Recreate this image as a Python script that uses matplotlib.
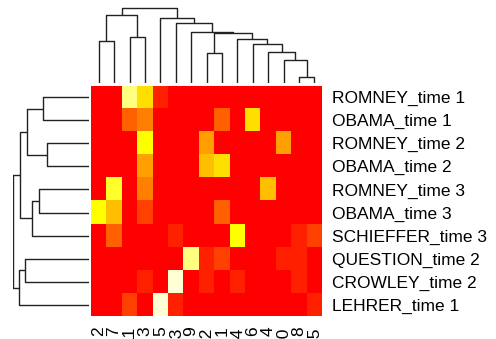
import matplotlib
matplotlib.use('Agg')
import matplotlib.pyplot as plt
from matplotlib.colors import ListedColormap
import numpy as np

plt.rcParams['font.family'] = ['Liberation Sans', 'DejaVu Sans']

# Speaker / time segments (rows, top to bottom) and topic columns (left to right)
row_labels = ['ROMNEY_time 1', 'OBAMA_time 1', 'ROMNEY_time 2', 'OBAMA_time 2',
              'ROMNEY_time 3', 'OBAMA_time 3', 'SCHIEFFER_time 3', 'QUESTION_time 2',
              'CROWLEY_time 2', 'LEHRER_time 1']
col_labels = ['2', '7', '11', '3', '5', '13', '9', '12', '1', '14', '6', '4', '10', '8', '15']

# Row-scaled values, binned into 12 heat levels (0 = red, 11 = pale yellow)
levels = [
    [0, 0, 10, 7, 1, 0, 0, 0, 0, 0, 0, 0, 0, 0, 0],
    [0, 0, 3, 4, 0, 0, 0, 0, 3, 0, 7, 0, 0, 0, 0],
    [0, 0, 0, 8, 0, 0, 0, 5, 0, 0, 0, 0, 5, 0, 0],
    [0, 0, 0, 5, 0, 0, 0, 6, 7, 0, 0, 0, 0, 0, 0],
    [0, 9, 0, 4, 0, 0, 0, 0, 0, 0, 0, 6, 0, 0, 0],
    [8, 6, 0, 2, 0, 0, 0, 0, 3, 0, 0, 0, 0, 0, 0],
    [0, 3, 0, 0, 0, 1, 0, 0, 0, 8, 0, 0, 0, 1, 2],
    [0, 0, 0, 0, 0, 0, 10, 1, 2, 0, 0, 0, 1, 1, 0],
    [0, 0, 0, 1, 0, 11, 0, 1, 0, 1, 0, 0, 0, 1, 0],
    [0, 0, 2, 0, 11, 1, 0, 0, 0, 0, 0, 0, 0, 0, 1],
]

# heat.colors(12)
heat = ['#FF0000', '#FF2000', '#FF4000', '#FF6000', '#FF8000', '#FF9F00',
        '#FFBF00', '#FFDF00', '#FFFF00', '#FFFF2A', '#FFFF80', '#FFFFD5']

# Linkage for columns: (child a, child b, height); leaves are 0..14, new nodes 15..
col_merges = [(0, 1, 42), (2, 3, 46), (15, 16, 68), (7, 8, 30), (13, 14, 6),
              (12, 19, 23), (11, 20, 31), (10, 21, 39), (9, 22, 44), (18, 23, 50),
              (6, 24, 51), (5, 25, 60), (4, 26, 65), (17, 27, 75)]
# Linkage for rows: leaves 0..9, new nodes 10..
row_merges = [(0, 1, 46), (2, 3, 42), (10, 11, 62), (4, 5, 50), (13, 6, 57),
              (12, 14, 69), (7, 8, 64), (16, 9, 70), (15, 17, 76)]


def dendro_segments(merges, n_leaves):
    pos = {i: float(i) for i in range(n_leaves)}
    hgt = {i: 0.0 for i in range(n_leaves)}
    segs = []
    for k, (a, b, h) in enumerate(merges):
        node = n_leaves + k
        segs.append(([pos[a], pos[a], pos[b], pos[b]], [hgt[a], h, h, hgt[b]]))
        pos[node] = (pos[a] + pos[b]) / 2
        hgt[node] = h
    return segs


W, H = 496, 339
fig = plt.figure(figsize=(W / 100, H / 100), dpi=100)


def px_axes(x0, y0, x1, y1):
    return fig.add_axes([x0 / W, 1 - y1 / H, (x1 - x0) / W, (y1 - y0) / H])


# heatmap
ax = px_axes(91, 85.5, 322, 316.5)
ax.imshow(np.array(levels), cmap=ListedColormap(heat), vmin=-0.5, vmax=11.5,
          aspect='auto', interpolation='nearest')
ax.set_xticks(range(len(col_labels)))
ax.set_xticklabels(col_labels, rotation=90, fontsize=12.5, va='top')
ax.set_yticks(range(len(row_labels)))
ax.set_yticklabels(row_labels, fontsize=12.5)
ax.yaxis.tick_right()
ax.tick_params(length=0)
ax.tick_params(axis='y', pad=7)
ax.tick_params(axis='x', pad=7)
for s in ax.spines.values():
    s.set_visible(False)

# column dendrogram
axt = px_axes(91, 7, 322, 83)
for xs, ys in dendro_segments(col_merges, len(col_labels)):
    axt.plot(xs, ys, color='#222222', lw=1.0, solid_capstyle='butt')
axt.set_xlim(-0.5, len(col_labels) - 0.5)
axt.set_ylim(0, 76)
axt.axis('off')

# row dendrogram
axl = px_axes(13, 85.5, 89, 316.5)
for ys, xs in dendro_segments(row_merges, len(row_labels)):
    axl.plot(xs, ys, color='#222222', lw=1.0, solid_capstyle='butt')
axl.set_ylim(len(row_labels) - 0.5, -0.5)
axl.set_xlim(76, 0)
axl.axis('off')

fig.savefig('out.png', dpi=100)
